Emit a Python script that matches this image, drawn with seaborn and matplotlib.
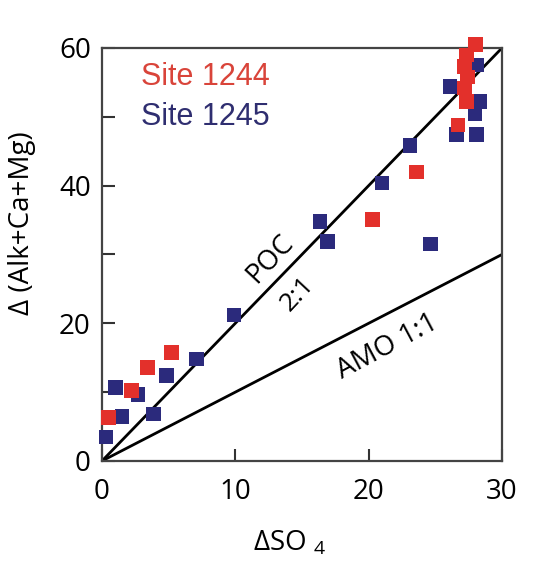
import matplotlib
matplotlib.use("Agg")
import matplotlib.pyplot as plt
import seaborn as sns
import pandas as pd

# Site 1244 porewater deltas
so4_1244 = [0.5, 2.2, 3.4, 5.2, 20.3, 23.6, 26.7, 27.2, 27.35, 27.4, 27.2, 27.35, 28.0]
alk_1244 = [6.3, 10.2, 13.6, 15.8, 35.1, 42.0, 48.8, 54.2, 52.2, 55.8, 57.3, 59.0, 60.5]

# Site 1245 porewater deltas
so4_1245 = [0.3, 1.5, 1.0, 2.7, 3.85, 4.85, 7.1, 9.9, 16.35, 16.9, 21.0, 23.1, 24.65,
            26.1, 28.1, 28.35, 27.97, 26.6, 28.1]
alk_1245 = [3.5, 6.5, 10.7, 9.7, 6.8, 12.4, 14.8, 21.2, 34.8, 31.9, 40.4, 45.8, 31.5,
            54.4, 57.5, 52.2, 50.5, 47.4, 47.4]

# Stoichiometric reference lines
ref_x = [0, 30]
poc_y = [0, 60]   # POC 2:1
amo_y = [0, 30]   # AMO 1:1

x_ticks = [0, 10, 20, 30]
y_ticks = [0, 20, 40, 60]

sns.set_style("white")
plt.rcParams["font.family"] = ["Open Sans", "DejaVu Sans"]
plt.rcParams["mathtext.fontset"] = "custom"
plt.rcParams["mathtext.rm"] = "Open Sans"
plt.rcParams["mathtext.it"] = "Open Sans"
plt.rcParams["text.color"] = "black"
plt.rcParams["axes.labelcolor"] = "black"
plt.rcParams["xtick.color"] = "black"
plt.rcParams["ytick.color"] = "black"

RED = "#e3302b"
BLUE = "#2b2a7c"

fig = plt.figure(figsize=(5.51, 5.68), dpi=100)
ax = fig.add_axes([0.185, 0.1884, 0.726, 0.7271])

df_a = pd.DataFrame({"dso4": so4_1245, "dalk": alk_1245})
df_b = pd.DataFrame({"dso4": so4_1244, "dalk": alk_1244})

sns.lineplot(x=ref_x, y=poc_y, ax=ax, color="black", lw=2.0, zorder=2)
sns.lineplot(x=ref_x, y=amo_y, ax=ax, color="black", lw=2.0, zorder=2)

sns.scatterplot(data=df_a, x="dso4", y="dalk", ax=ax, marker="s", s=110,
                color=BLUE, edgecolor="none", linewidth=0, zorder=3, clip_on=False)
sns.scatterplot(data=df_b, x="dso4", y="dalk", ax=ax, marker="s", s=110,
                color=RED, edgecolor="none", linewidth=0, zorder=4, clip_on=False)

ax.set_xlim(0, 30)
ax.set_ylim(0, 60)
ax.set_xticks(x_ticks)
ax.set_yticks(y_ticks)
ax.set_yticks([10, 30, 50], minor=True)
ax.tick_params(axis="both", which="both", direction="in", length=9, width=1.5,
               color="#333333", bottom=True, left=True, top=False, right=False)
ax.tick_params(axis="x", which="major", labelsize=20, pad=12)
ax.tick_params(axis="y", which="major", labelsize=20, pad=8)

for sp in ax.spines.values():
    sp.set_visible(True)
    sp.set_color("#444444")
    sp.set_linewidth(1.6)

ax.set_xlabel(r"ΔSO $_{4}$", fontsize=20)
ax.xaxis.set_label_coords(0.47, -0.165)
ax.set_ylabel("Δ (Alk+Ca+Mg)", fontsize=20)
ax.yaxis.set_label_coords(-0.165, 0.575)

# Line annotations
ax.text(12.6, 29.4, "POC", fontsize=20, rotation=47, ha="center", va="center",
        rotation_mode="anchor")
ax.text(14.7, 24.3, "2:1", fontsize=19, rotation=47, ha="center", va="center",
        rotation_mode="anchor")
ax.text(21.4, 16.6, "AMO 1:1", fontsize=20, rotation=28, ha="center", va="center",
        rotation_mode="anchor")

# Site labels
ax.text(2.9, 55.8, "Site 1244", fontsize=22, color="#d9443a", ha="left", va="center",
        family=["Liberation Sans", "DejaVu Sans"])
ax.text(2.9, 50.0, "Site 1245", fontsize=22, color="#2f2e70", ha="left", va="center",
        family=["Liberation Sans", "DejaVu Sans"])

if ax.get_legend() is not None:
    ax.get_legend().remove()

fig.savefig("out.png", dpi=100)
